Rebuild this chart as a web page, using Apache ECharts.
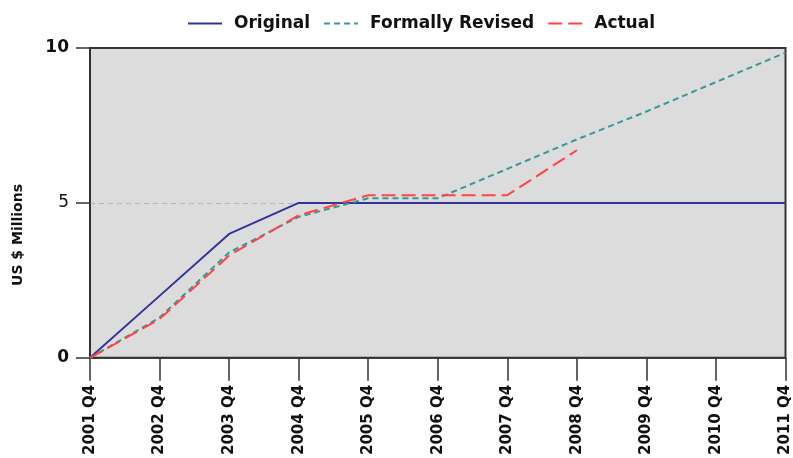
<!DOCTYPE html>
<html>
<head>
<meta charset="utf-8">
<script src="https://cdn.jsdelivr.net/npm/echarts@6/dist/echarts.min.js"></script>
<style>
html,body{margin:0;padding:0;background:#fff;}
#chart{width:793px;height:458px;}
</style>
</head>
<body>
<div id="chart"></div>
<script>
var categories = ['2001 Q4','2002 Q4','2003 Q4','2004 Q4','2005 Q4','2006 Q4','2007 Q4','2008 Q4','2009 Q4','2010 Q4','2011 Q4'];
var original = [0, 2, 4, 5, 5, 5, 5, 5, 5, 5, 5];
var revised = [0, 1.3, 3.4, 4.55, 5.15, 5.15, 6.1, 7.05, 7.95, 8.9, 9.85];
var actual = [0, 1.25, 3.3, 4.6, 5.25, 5.25, 5.25, 6.7];
var yTicks = [0, 5, 10];
var boldTicks = [0, 10];
var yTitle = 'US $ Millions';

var chart = echarts.init(document.getElementById('chart'));
var font = 'DejaVu Sans';
chart.setOption({
  animation: false,
  backgroundColor: '#ffffff',
  legend: {
    top: 10,
    left: 182,
    itemWidth: 34,
    itemHeight: 14,
    itemGap: 13,
    itemStyle: {opacity: 0},
    textStyle: {fontFamily: font, fontWeight: 'bold', fontSize: 17, color: '#111', padding: [0,0,0,7]},
    data: ['Original', 'Formally Revised', 'Actual']
  },
  grid: {
    left: 90, right: 3, top: 48, bottom: 98,
    show: true, backgroundColor: '#dcdcdc', borderColor: '#333', borderWidth: 2
  },
  graphic: [{
    type: 'text',
    x: 18, y: 235,
    rotation: Math.PI / 2,
    style: {text: yTitle, fontFamily: font, fontWeight: 'bold', fontSize: 14, fill: '#111', align: 'center', verticalAlign: 'middle'}
  }],
  xAxis: {
    type: 'category',
    data: categories,
    boundaryGap: false,
    axisLine: {lineStyle: {color: '#333', width: 1.5}},
    axisTick: {show: true, length: 23, lineStyle: {color: '#333', width: 1.5}},
    axisLabel: {rotate: 90, margin: 27, fontFamily: font, fontWeight: 'bold', fontSize: 15, color: '#111'},
    splitLine: {show: false}
  },
  yAxis: {
    type: 'value',
    min: yTicks[0], max: yTicks[yTicks.length - 1], interval: 5,
    axisLine: {show: true, lineStyle: {color: '#333', width: 1.5}},
    axisTick: {show: true, length: 14, lineStyle: {color: '#333', width: 1.5}},
    axisLabel: {
      margin: 21, color: '#111', fontFamily: font, fontSize: 17,
      formatter: function (v) { return boldTicks.indexOf(v) >= 0 ? '{b|' + v + '}' : '{n|' + v + '}'; },
      rich: {
        b: {fontFamily: font, fontWeight: 'bold', fontSize: 17, color: '#111'},
        n: {fontFamily: font, fontWeight: 'normal', fontSize: 17, color: '#111'}
      }
    },
    splitLine: {show: true, showMinLine: false, showMaxLine: false, lineStyle: {color: '#b8b8b8', type: [5, 4], width: 1}}
  },
  series: [
    {name: 'Original', type: 'line', data: original, symbol: 'none', lineStyle: {color: '#333399', width: 2}, itemStyle: {color: '#333399'}},
    {name: 'Formally Revised', type: 'line', data: revised, symbol: 'none', lineStyle: {color: '#339999', width: 2, type: [6, 4]}, itemStyle: {color: '#339999'}},
    {name: 'Actual', type: 'line', data: actual, symbol: 'none', lineStyle: {color: '#ff4444', width: 2, type: [14, 6]}, itemStyle: {color: '#ff4444'}}
  ]
});
</script>
</body>
</html>
